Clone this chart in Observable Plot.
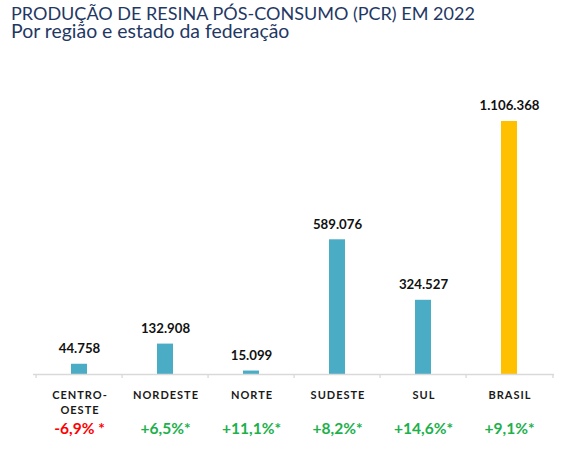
<!DOCTYPE html>
<html><head><meta charset="utf-8">
<script src="https://cdn.jsdelivr.net/npm/d3@7"></script>
<script src="https://cdn.jsdelivr.net/npm/@observablehq/plot@0.6"></script>
<style>
body{margin:0;background:#fff;}
#head{display:block;}
</style></head>
<body>
<svg id="head" width="565" height="56"></svg>
<div id="chart"></div>
<script>
const titleText = "PRODUÇÃO DE RESINA PÓS-CONSUMO (PCR) EM 2022";
const subtitleText = "Por região e estado da federação";
const categories = ["CENTRO-\nOESTE","NORDESTE","NORTE","SUDESTE","SUL","BRASIL"];
const values = [44758,132908,15099,589076,324527,1106368];
const changeLabels = ["-6,9% *","+6,5%*","+11,1%*","+8,2%*","+14,6%*","+9,1%*"];
const changeValues = [-6.9,6.5,11.1,8.2,14.6,9.1];
const totalCategory = "BRASIL";

const FAMILY = "Lato";
const ctx = document.createElement("canvas").getContext("2d");
function textWidth(t, weight, size){ ctx.font = `${weight} ${size}px ${FAMILY}`; return ctx.measureText(t).width; }
function fit(t, weight, target){ return target / textWidth(t, weight, 100) * 100; }

const data = categories.map((c,i)=>({cat:c,value:values[i],change:changeLabels[i],chg:changeValues[i]}));
const fmt = d3.formatLocale({decimal:",",thousands:".",grouping:[3],currency:["",""]}).format(",d");

// header
const titleSize = fit(titleText, "normal", 465);
const subSize = fit(subtitleText, "normal", 279);
const head = d3.select("#head");
head.append("text").attr("x",11).attr("y",19.5).attr("fill","#1f3864").style("font-family",FAMILY).style("font-size",titleSize+"px").text(titleText);
head.append("text").attr("x",11).attr("y",37.5).attr("fill","#1f3864").style("font-family",FAMILY).style("font-size",subSize+"px").text(subtitleText);

const valueSize = (fit("1.106.368","bold",58) + fit("44.758","bold",43)) / 2;
const pctSize = (fit("+14,6%*","bold",58) + fit("+8,2%*","bold",51)) / 2;
const catSize = 11;
const catSpacing = (65 - textWidth("NORDESTE","bold",catSize)) / 7;

const W=565,H=395,ML=33,MR=11,MB=77;
const pin=0.816,pout=pin/2;
const step=(W-ML-MR)/(categories.length-pin+2*pout);
const teal="#4bacc6",gold="#ffc000",grid="#d9d9d9";

const plot = Plot.plot({
  width:W,height:H,marginLeft:ML,marginRight:MR,marginBottom:MB,marginTop:10,
  style:{fontFamily:FAMILY+", sans-serif",background:"#fff"},
  x:{type:"band",domain:categories,paddingInner:pin,paddingOuter:pout,axis:null},
  y:{domain:[0,d3.max(values)],range:[H-MB,65],axis:null},
  marks:[
    Plot.barY(data,{x:"cat",y:"value",fill:d=>d.cat===totalCategory?gold:teal}),
    Plot.ruleY([0],{stroke:grid,strokeWidth:1.3}),
    Plot.axisX({ticks:categories,tickFormat:()=>"",tickSize:4,dx:-step/2,stroke:grid,strokeWidth:1.3,label:null}),
    Plot.axisX({ticks:[totalCategory],tickFormat:()=>"",tickSize:4,dx:step/2,stroke:grid,strokeWidth:1.3,label:null}),
    Plot.text(data,{x:"cat",y:"value",text:d=>fmt(d.value),dy:-15.5,fontWeight:"bold",fontSize:valueSize,fill:"#111"}),
    Plot.text(data,{x:"cat",y:()=>0,text:"cat",dy:13.5,dx:catSpacing/2,lineAnchor:"top",lineHeight:15/catSize,fontWeight:"bold",fontSize:catSize,fill:"#1a1a1a",ariaDescription:"categories"}),
    Plot.text(data,{x:"cat",y:()=>0,text:"change",dy:54.5,fontWeight:"bold",fontSize:pctSize,fill:d=>d.chg<0?"#ff0000":"#1db04b"})
  ]
});
d3.select(plot).selectAll('g[aria-description="categories"] text').style("letter-spacing",catSpacing+"px");
document.getElementById("chart").appendChild(plot);
</script>
</body></html>
